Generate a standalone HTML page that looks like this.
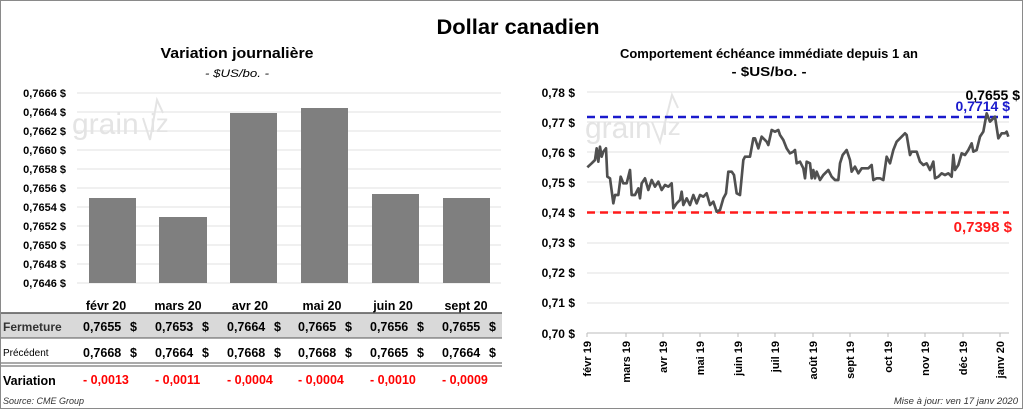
<!DOCTYPE html>
<html><head><meta charset="utf-8"><style>
html,body{margin:0;padding:0;background:#fff}
svg{display:block;font-family:"Liberation Sans",sans-serif}
</style></head><body>
<svg width="1024" height="410" viewBox="0 0 1024 410" xmlns="http://www.w3.org/2000/svg">
<rect x="0.5" y="0.5" width="1022" height="408" fill="#fff" stroke="#8a8a8a"/>
<text x="518" y="34" font-size="21" font-weight="bold" text-anchor="middle" textLength="163" lengthAdjust="spacingAndGlyphs">Dollar canadien</text>
<text x="237" y="58" font-size="15" font-weight="bold" text-anchor="middle" textLength="153" lengthAdjust="spacingAndGlyphs">Variation  journalière</text>
<text x="237" y="77" font-size="11" font-style="italic" text-anchor="middle" textLength="64" lengthAdjust="spacingAndGlyphs">- $US/bo. -</text>
<text x="769" y="58" font-size="13" font-weight="bold" text-anchor="middle" textLength="298" lengthAdjust="spacingAndGlyphs">Comportement échéance immédiate depuis 1 an</text>
<text x="769" y="76" font-size="13" font-weight="bold" text-anchor="middle" textLength="75" lengthAdjust="spacingAndGlyphs">- $US/bo. -</text>

<!-- left chart -->
<g stroke="#e2e2e2" stroke-width="1">
<line x1="77" x2="501" y1="93" y2="93"/><line x1="77" x2="501" y1="112" y2="112"/><line x1="77" x2="501" y1="131" y2="131"/><line x1="77" x2="501" y1="150" y2="150"/><line x1="77" x2="501" y1="169" y2="169"/><line x1="77" x2="501" y1="188" y2="188"/><line x1="77" x2="501" y1="207" y2="207"/><line x1="77" x2="501" y1="226" y2="226"/><line x1="77" x2="501" y1="245" y2="245"/><line x1="77" x2="501" y1="264" y2="264"/><line x1="77" x2="501" y1="283" y2="283"/>
</g>
<text x="72" y="134" font-size="30" fill="#e4e4e4" >grain</text>
<path d="M143 118 L150 140 L157 100 L163 113" fill="none" stroke="#e4e4e4" stroke-width="2"/>
<text x="150" y="132" font-size="26" fill="#e4e4e4">iz</text>
<g font-size="11" font-weight="bold" text-anchor="end">
<text x="66" y="97">0,7666 $</text><text x="66" y="116">0,7664 $</text><text x="66" y="135">0,7662 $</text><text x="66" y="154">0,7660 $</text><text x="66" y="173">0,7658 $</text><text x="66" y="192">0,7656 $</text><text x="66" y="211">0,7654 $</text><text x="66" y="230">0,7652 $</text><text x="66" y="249">0,7650 $</text><text x="66" y="268">0,7648 $</text><text x="66" y="287">0,7646 $</text>
</g>
<g fill="#7f7f7f">
<rect x="89" y="198" width="47" height="85"/><rect x="159" y="217" width="48" height="66"/><rect x="230" y="113" width="47" height="170"/><rect x="301" y="108" width="47" height="175"/><rect x="372" y="194" width="47" height="89"/><rect x="443" y="198" width="47" height="85"/>
</g>
<g font-size="12.5" font-weight="bold" text-anchor="middle">
<text x="106" y="310">févr 20</text><text x="178" y="310">mars 20</text><text x="250" y="310">avr 20</text><text x="322" y="310">mai 20</text><text x="393" y="310">juin 20</text><text x="466" y="310">sept 20</text>
</g>
<rect x="1" y="313" width="501" height="25" fill="#d9d9d9"/>
<line x1="1" x2="502" y1="313" y2="313" stroke="#555" stroke-width="1.5"/>
<line x1="1" x2="502" y1="338" y2="338" stroke="#555" stroke-width="1"/>
<line x1="1" x2="502" y1="363" y2="363" stroke="#555" stroke-width="1"/>
<line x1="1" x2="502" y1="366" y2="366" stroke="#555" stroke-width="1"/>
<text x="3" y="331" font-size="12" font-weight="bold" fill="#333">Fermeture</text>
<text x="3" y="356" font-size="10">Précédent</text>
<text x="3" y="385" font-size="12.5" font-weight="bold">Variation</text>
<g font-size="12.5" font-weight="bold">
<text x="83" y="331">0,7655</text><text x="155" y="331">0,7653</text><text x="227" y="331">0,7664</text><text x="298" y="331">0,7665</text><text x="370" y="331">0,7656</text><text x="442" y="331">0,7655</text>
<text x="83" y="357">0,7668</text><text x="155" y="357">0,7664</text><text x="227" y="357">0,7668</text><text x="298" y="357">0,7668</text><text x="370" y="357">0,7665</text><text x="442" y="357">0,7664</text>
<text x="130" y="331">$</text><text x="202" y="331">$</text><text x="274" y="331">$</text><text x="345" y="331">$</text><text x="417" y="331">$</text><text x="489" y="331">$</text>
<text x="130" y="357">$</text><text x="202" y="357">$</text><text x="274" y="357">$</text><text x="345" y="357">$</text><text x="417" y="357">$</text><text x="489" y="357">$</text>
</g>
<g font-size="12.5" font-weight="bold" fill="#ff0000">
<text x="83" y="384">- 0,0013</text><text x="155" y="384">- 0,0011</text><text x="227" y="384">- 0,0004</text><text x="298" y="384">- 0,0004</text><text x="370" y="384">- 0,0010</text><text x="442" y="384">- 0,0009</text>
</g>
<text x="3" y="404" font-size="9" font-style="italic" fill="#333">Source: CME Group</text>

<!-- right chart -->
<g stroke="#e2e2e2" stroke-width="1">
<line x1="587" x2="1009" y1="92" y2="92"/><line x1="587" x2="1009" y1="122" y2="122"/><line x1="587" x2="1009" y1="152" y2="152"/><line x1="587" x2="1009" y1="182" y2="182"/><line x1="587" x2="1009" y1="212" y2="212"/><line x1="587" x2="1009" y1="243" y2="243"/><line x1="587" x2="1009" y1="273" y2="273"/><line x1="587" x2="1009" y1="303" y2="303"/>
</g>
<line x1="587" x2="1009" y1="333" y2="333" stroke="#bbb"/>
<g stroke="#bbb"><line x1="587" x2="587" y1="333" y2="337"/><line x1="626" x2="626" y1="333" y2="337"/><line x1="663" x2="663" y1="333" y2="337"/><line x1="700" x2="700" y1="333" y2="337"/><line x1="738" x2="738" y1="333" y2="337"/><line x1="775" x2="775" y1="333" y2="337"/><line x1="813" x2="813" y1="333" y2="337"/><line x1="850" x2="850" y1="333" y2="337"/><line x1="888" x2="888" y1="333" y2="337"/><line x1="925" x2="925" y1="333" y2="337"/><line x1="963" x2="963" y1="333" y2="337"/><line x1="1000" x2="1000" y1="333" y2="337"/></g>
<text x="585" y="138" font-size="30" fill="#e4e4e4">grain</text>
<path d="M652 122 L660 142 L672 95 L678 108" fill="none" stroke="#e4e4e4" stroke-width="2"/>
<text x="662" y="135" font-size="26" fill="#e4e4e4">iz</text>
<g font-size="12" font-weight="bold" text-anchor="end">
<text x="575" y="97">0,78 $</text><text x="575" y="127">0,77 $</text><text x="575" y="157">0,76 $</text><text x="575" y="187">0,75 $</text><text x="575" y="217">0,74 $</text><text x="575" y="247">0,73 $</text><text x="575" y="277">0,72 $</text><text x="575" y="307">0,71 $</text><text x="575" y="338">0,70 $</text>
</g>
<line x1="587" x2="1009" y1="117" y2="117" stroke="#1a1acc" stroke-width="2.5" stroke-dasharray="8,5"/>
<line x1="587" x2="1009" y1="212.5" y2="212.5" stroke="#ff1a1a" stroke-width="2.5" stroke-dasharray="8,5"/>
<g transform="translate(520,80) scale(0.33333)">
<polyline fill="none" stroke="#505050" stroke-width="8" stroke-linejoin="round" points="202,262 215,250 225,240 230,205 235,245 240,200 245,230 250,215 258,205 262,290 270,295 280,370 285,345 295,345 302,290 310,310 320,310 330,270 335,345 345,345 355,325 360,355 365,310 375,295 385,330 395,300 405,320 415,305 425,330 435,315 445,320 455,310 460,385 470,370 480,360 485,335 490,375 500,355 510,375 520,345 530,370 540,345 550,350 560,340 570,375 580,365 590,395 600,390 610,355 618,340 625,275 635,275 642,285 650,340 660,345 670,240 675,230 690,230 700,175 705,175 715,205 725,170 740,185 745,195 755,150 765,155 775,150 780,165 790,180 800,205 810,220 820,215 825,210 830,250 840,245 850,265 855,295 860,245 870,250 875,295 880,270 885,295 890,275 900,300 910,285 925,270 935,290 945,300 955,300 960,250 968,225 980,210 990,240 995,275 1005,260 1015,280 1025,265 1035,265 1045,265 1055,255 1060,300 1070,295 1080,295 1090,300 1100,230 1110,250 1120,210 1130,185 1145,170 1155,160 1160,165 1170,225 1175,215 1190,215 1200,245 1210,255 1220,250 1230,270 1240,245 1245,295 1255,290 1265,280 1275,285 1285,280 1295,290 1300,225 1305,270 1315,255 1325,220 1335,225 1345,210 1355,190 1360,215 1370,210 1380,170 1390,155 1400,100 1410,125 1420,115 1425,110 1435,175 1445,160 1455,160 1460,155 1465,170"/>
</g>
<text x="1020" y="100" font-size="14" font-weight="bold" text-anchor="end">0,7655 $</text>
<text x="1010" y="111" font-size="14" font-weight="bold" fill="#1a1acc" text-anchor="end">0,7714 $</text>
<text x="1012" y="232" font-size="15" font-weight="bold" fill="#ff1a1a" text-anchor="end">0,7398 $</text>
<g font-size="11" font-weight="bold" text-anchor="end">
<text transform="translate(591,341) rotate(-90)">févr 19</text>
<text transform="translate(630,341) rotate(-90)">mars 19</text>
<text transform="translate(667,341) rotate(-90)">avr 19</text>
<text transform="translate(704,341) rotate(-90)">mai 19</text>
<text transform="translate(742,341) rotate(-90)">juin 19</text>
<text transform="translate(779,341) rotate(-90)">juil 19</text>
<text transform="translate(817,341) rotate(-90)">août 19</text>
<text transform="translate(854,341) rotate(-90)">sept 19</text>
<text transform="translate(892,341) rotate(-90)">oct 19</text>
<text transform="translate(929,341) rotate(-90)">nov 19</text>
<text transform="translate(967,341) rotate(-90)">déc 19</text>
<text transform="translate(1004,341) rotate(-90)">janv 20</text>
</g>
<text x="1018" y="404" font-size="9.5" font-style="italic" fill="#333" text-anchor="end">Mise à jour: ven 17 janv 2020</text>
</svg>
</body></html>
